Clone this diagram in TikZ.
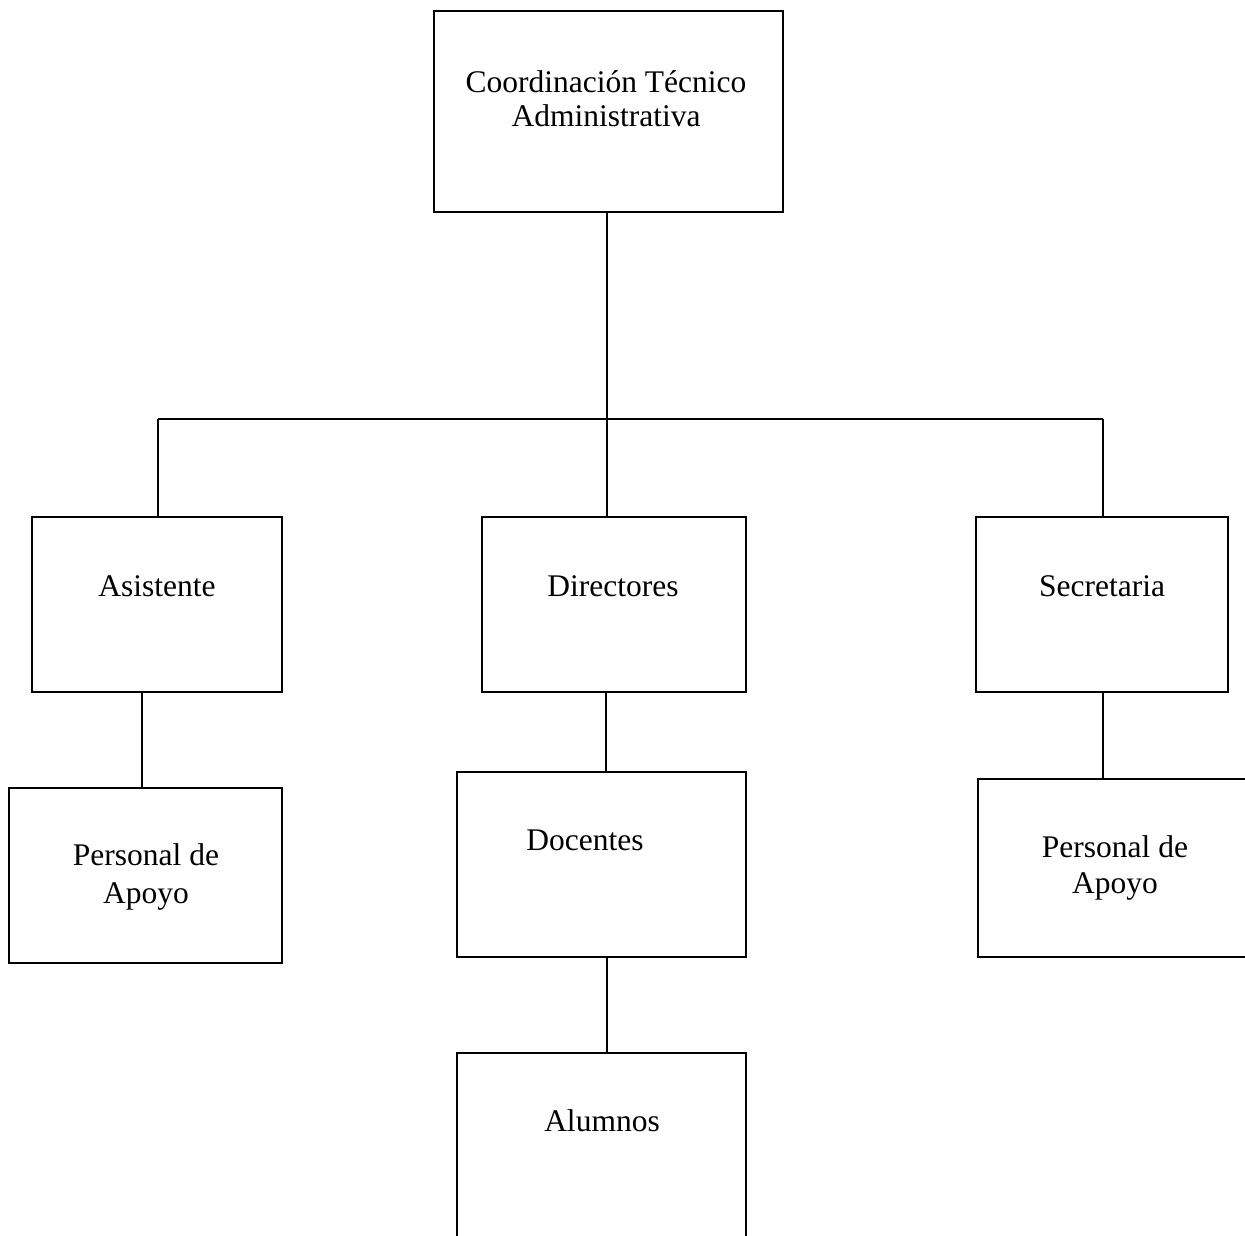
\documentclass[tikz,border=0pt]{standalone}
\usepackage{fontspec}
\setmainfont{Liberation Serif}
\begin{document}
\begin{tikzpicture}[x=1pt,y=-1pt,
  box/.style={draw=black,line width=1.8pt,rectangle,inner sep=0pt},
  lbl/.style={anchor=base,inner sep=0pt,font=\fontsize{31.5}{36}\selectfont,align=center},
  conn/.style={draw=black,line width=1.8pt}]
\useasboundingbox (0,0) rectangle (1245,1235);
\clip (0,0) rectangle (1245,1235);
% boxes
\node[box,minimum width=349pt,minimum height=201pt] (top) at (608.5,111.5) {};
\node[box,minimum width=250pt,minimum height=175pt] (asis) at (157,604.5) {};
\node[box,minimum width=264pt,minimum height=175pt] (dir) at (614,604.5) {};
\node[box,minimum width=252pt,minimum height=175pt] (sec) at (1102,604.5) {};
\node[box,minimum width=273pt,minimum height=175pt] (pa1) at (145.5,875.5) {};
\node[box,minimum width=289pt,minimum height=185pt] (doc) at (601.5,864.5) {};
\node[box,minimum width=290pt,minimum height=178pt] (pa2) at (1123,868) {};
\node[box,minimum width=289pt,minimum height=200pt] (alu) at (601.5,1153) {};
% texts (base anchor = baseline of the last line)
\node[lbl,font=\fontsize{31.5}{34}\selectfont] (ttop) at (606,126) {Coordinación Técnico\\Administrativa};
\node[lbl] (tasis) at (157,596) {Asistente};
\node[lbl] (tdir) at (613,596) {Directores};
\node[lbl] (tsec) at (1102,596) {Secretaria};
\node[lbl,font=\fontsize{31.5}{38}\selectfont] (tpa1) at (146,903) {Personal de\\Apoyo};
\node[lbl] (tdoc) at (585,850) {Docentes};
\node[lbl] (tpa2) at (1115,893) {Personal de\\Apoyo};
\node[lbl] (talu) at (602,1131) {Alumnos};
% connectors
\coordinate (bl) at (158,419);
\coordinate (bc) at (607,419);
\coordinate (br) at (1103,419);
\draw[conn] (bl) -- (br);
\draw[conn] (top.south -| bc) -- (bc);
\draw[conn] (bc) -- (bc |- dir.north);
\draw[conn] (bl) -- (bl |- asis.north);
\draw[conn] (br) -- (br |- sec.north);
\draw[conn] ([xshift=-15pt]asis.south) -- ([xshift=-15pt]asis.south |- pa1.north);
\draw[conn] ([xshift=-8pt]dir.south) -- ([xshift=-8pt]dir.south |- doc.north);
\draw[conn] ([xshift=5.5pt]doc.south) -- ([xshift=5.5pt]doc.south |- alu.north);
\draw[conn] ([xshift=1pt]sec.south) -- ([xshift=1pt]sec.south |- pa2.north);
\end{tikzpicture}
\end{document}
